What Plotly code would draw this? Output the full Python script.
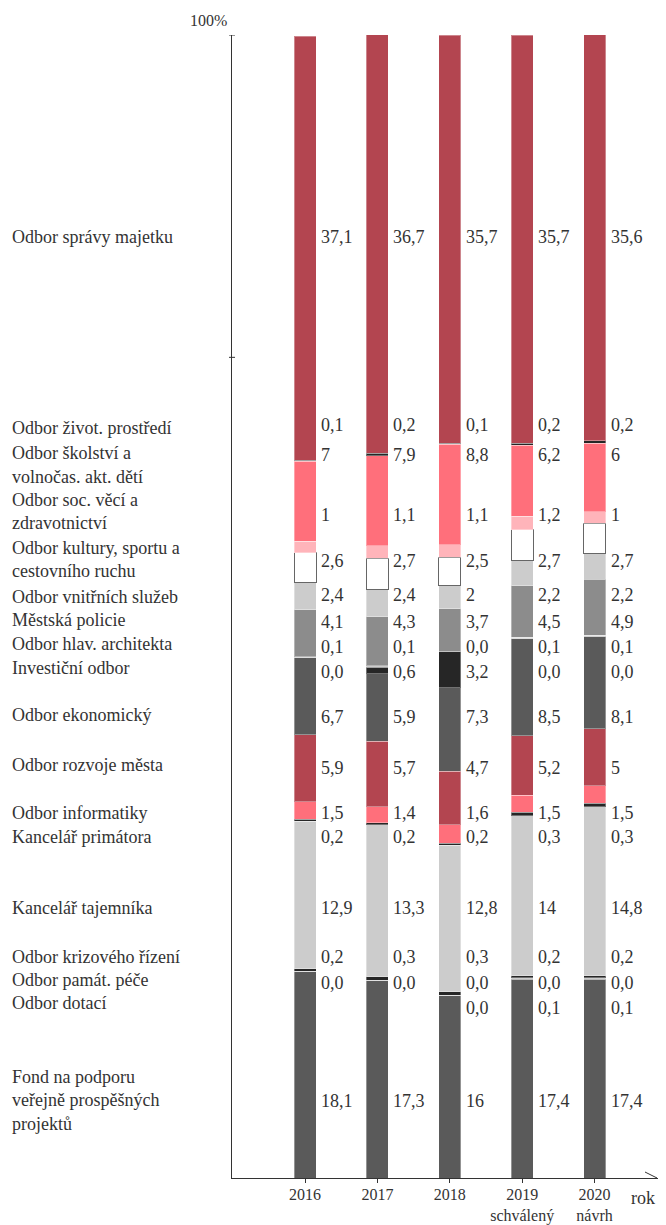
import plotly.graph_objects as go

# roky (osa x)
years = ["2016", "2017", "2018", "2019<br>schválený", "2020<br>návrh"]

# odbory odspodu nahoru, podíly v %
categories = [
    "Fond na podporu<br>veřejně prospěšných<br>projektů",
    "Odbor dotací",
    "Odbor památ. péče",
    "Odbor krizového řízení",
    "Kancelář tajemníka",
    "Kancelář primátora",
    "Odbor informatiky",
    "Odbor rozvoje města",
    "Odbor ekonomický",
    "Investiční odbor",
    "Odbor hlav. architekta",
    "Městská policie",
    "Odbor vnitřních služeb",
    "Odbor kultury, sportu a<br>cestovního ruchu",
    "Odbor soc. věcí a<br>zdravotnictví",
    "Odbor školství a<br>volnočas. akt. dětí",
    "Odbor život. prostředí",
    "Odbor správy majetku",
]

v_fond = [18.1, 17.3, 16, 17.4, 17.4]
v_dotaci = [None, None, 0.0, 0.1, 0.1]
v_pamat = [0.0, 0.0, 0.0, 0.0, 0.0]
v_krizove = [0.2, 0.3, 0.3, 0.2, 0.2]
v_tajemnik = [12.9, 13.3, 12.8, 14, 14.8]
v_primator = [0.2, 0.2, 0.2, 0.3, 0.3]
v_informatika = [1.5, 1.4, 1.6, 1.5, 1.5]
v_rozvoj = [5.9, 5.7, 4.7, 5.2, 5]
v_ekonom = [6.7, 5.9, 7.3, 8.5, 8.1]
v_investicni = [0.0, 0.6, 3.2, 0.0, 0.0]
v_architekt = [0.1, 0.1, 0.0, 0.1, 0.1]
v_policie = [4.1, 4.3, 3.7, 4.5, 4.9]
v_vnitrni = [2.4, 2.4, 2, 2.2, 2.2]
v_kultura = [2.6, 2.7, 2.5, 2.7, 2.7]
v_soc = [1, 1.1, 1.1, 1.2, 1]
v_skolstvi = [7, 7.9, 8.8, 6.2, 6]
v_zivot = [0.1, 0.2, 0.1, 0.2, 0.2]
v_majetek = [37.1, 36.7, 35.7, 35.7, 35.6]

values = [v_fond, v_dotaci, v_pamat, v_krizove, v_tajemnik, v_primator,
          v_informatika, v_rozvoj, v_ekonom, v_investicni, v_architekt,
          v_policie, v_vnitrni, v_kultura, v_soc, v_skolstvi, v_zivot, v_majetek]

DRED = "#b34550"
PINK = "#ff6f7b"
LPINK = "#ffb4ba"
WHITE = "#ffffff"
LGREY = "#cccccc"
MGREY = "#8c8c8c"
DGREY = "#5a5a5a"
BLACK = "#262626"
colors = [DGREY, LGREY, BLACK, BLACK, LGREY, BLACK, PINK, DRED, DGREY, BLACK,
          LGREY, MGREY, LGREY, WHITE, LPINK, PINK, BLACK, DRED]

# pozice popisků (v % osy y)
value_label_y = [6.74, 14.87, 17.06, 19.34, 23.62, 29.83, 31.93, 35.87, 40.33,
                 44.27, 46.46, 48.64, 51.01, 53.98, 58.01, 63.25, 65.88, 82.33]
name_label_y = [8.84, 15.31, 17.32, 19.34, 23.62, 29.83, 31.93, 36.13, 40.51,
                44.62, 46.72, 48.82, 50.83, 55.12, 59.32, 63.43, 65.62, 82.33]

FONT = "Liberation Serif, DejaVu Serif, serif"
FS = 18
TXT = "#333333"
BAR_W = 0.304
xs = list(range(len(years)))


def fmt(v):
    if v is None:
        return None
    if v != 0 and float(v).is_integer():
        return str(int(v))
    return f"{v:.1f}".replace(".", ",")


fig = go.Figure()
for name, vals, col in zip(categories, values, colors):
    fig.add_trace(go.Bar(
        x=xs, y=[0 if v is None else v for v in vals], name=name.replace("<br>", " "),
        width=BAR_W, marker_color=col,
        marker_line=dict(color="#666666" if col == WHITE else "rgba(255,255,255,0.35)",
                         width=1),
    ))

ann = []
for vals, ly in zip(values, value_label_y):
    for i, v in enumerate(vals):
        t = fmt(v)
        if t is None:
            continue
        ann.append(dict(x=i + BAR_W / 2, y=ly, xref="x", yref="y", text=t,
                        xanchor="left", yanchor="middle", xshift=3, showarrow=False,
                        font=dict(family=FONT, size=FS, color=TXT)))

for name, ly in zip(categories, name_label_y):
    for k, line in enumerate(name.split("<br>")):
        ann.append(dict(x=-0.5211, y=ly, xref="paper", yref="y", text=line,
                        xanchor="left", yanchor="middle", yshift=-23.5 * k,
                        showarrow=False, font=dict(family=FONT, size=FS, color=TXT)))

ann.append(dict(x=0, y=100, xref="paper", yref="y", text="100%", xanchor="right",
                yanchor="bottom", xshift=-3, yshift=4, showarrow=False,
                font=dict(family=FONT, size=16, color=TXT)))
ann.append(dict(x=1, y=0, xref="paper", yref="y", text="rok", xanchor="right",
                yanchor="top", xshift=-1, yshift=-8, showarrow=False,
                font=dict(family=FONT, size=FS, color=TXT)))

shapes = []
for ty in [100, 71.8]:
    shapes.append(dict(type="line", xref="paper", yref="y", xsizemode="pixel", xanchor=0,
                       x0=-3, x1=3, y0=ty, y1=ty, line=dict(color=TXT, width=1)))
shapes.append(dict(type="path", xref="paper", yref="y", xsizemode="pixel", ysizemode="pixel",
                   xanchor=1, yanchor=0, path="M -13,6 L -1,0 L -13,-6",
                   line=dict(color=TXT, width=1)))

# stránka má okraj 8 px, proto je graf menší
fig.update_layout(
    width=650, height=1217,
    margin=dict(l=224, r=0, t=27, b=47),
    barmode="stack",
    showlegend=False,
    plot_bgcolor="white", paper_bgcolor="white",
    annotations=ann, shapes=shapes,
    font=dict(family=FONT, size=FS, color=TXT),
    xaxis=dict(range=[-1.009, 4.877], tickvals=xs, ticktext=years, showline=True,
               linecolor=TXT, linewidth=1, ticks="outside", ticklen=4, tickcolor=TXT,
               showgrid=False, zeroline=False, fixedrange=True, automargin=False,
               ticklabelstandoff=-2,
               tickfont=dict(family=FONT, size=16, color=TXT)),
    yaxis=dict(range=[0, 100], showline=True, linecolor=TXT, linewidth=1,
               showticklabels=False, ticks="", showgrid=False, zeroline=False,
               fixedrange=True, automargin=False),
)

fig.write_html("out.html")
